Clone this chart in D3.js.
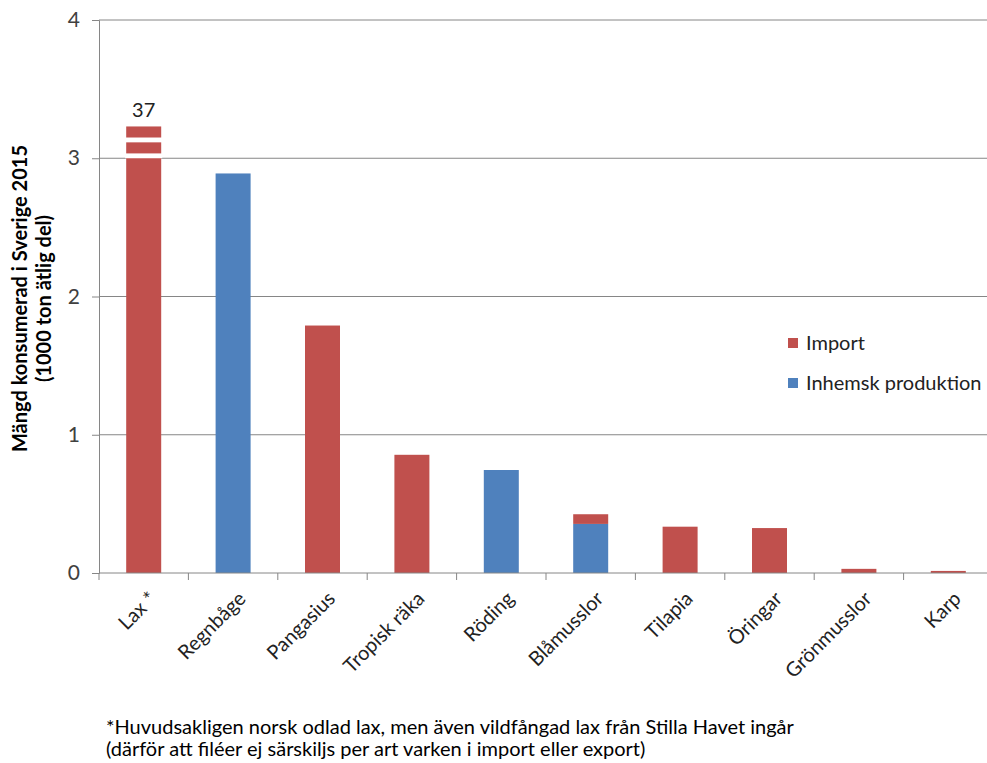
<!DOCTYPE html>
<html>
<head>
<meta charset="utf-8">
<script src="https://cdn.jsdelivr.net/npm/d3@7"></script>
<style>
  body { margin: 0; background: #fff; }
  svg { display: block; font-family: Lato, "Open Sans", sans-serif; }
</style>
</head>
<body>
<svg id="chart" width="987" height="763"></svg>
<script>
// Consumed amounts in Sweden 2015 (1000 tonnes, edible part)
const categories = ["Lax *", "Regnbåge", "Pangasius", "Tropisk räka", "Röding",
                    "Blåmusslor", "Tilapia", "Öringar", "Grönmusslor", "Karp"];
const inhemsk = [0, 2.89, 0, 0, 0.745, 0.355, 0, 0, 0, 0];
const importValues = [37, 0, 1.79, 0.855, 0, 0.07, 0.335, 0.325, 0.03, 0.015];
const seriesNames = ["Import", "Inhemsk produktion"];
const yTicks = [0, 1, 2, 3, 4];
const labelledCategory = "Lax *";
const breakCap = 3.23;          // bars taller than the axis are cut here
const breakGaps = [[3.0, 3.035], [3.115, 3.15]];
const footnote = [
  "*Huvudsakligen norsk odlad lax, men även vildfångad lax från Stilla Havet ingår",
  "(därför att filéer ej särskiljs per art varken i import eller export)"
];

const colors = { "Import": "#C0504D", "Inhemsk produktion": "#4F81BD" };

const svg = d3.select("#chart");
const plotLeft = 99, plotRight = 993, plotTop = 20, plotBottom = 573;

const x = d3.scaleBand().domain(categories).range([plotLeft, plotRight]).paddingInner(0.6).paddingOuter(0.3);
const band = d3.scaleBand().domain(categories).range([plotLeft, plotRight]);
const y = d3.scaleLinear().domain([0, 4]).range([plotBottom, plotTop]);

// gridlines
svg.append("g").selectAll("line").data(yTicks.slice(1)).join("line")
  .attr("x1", plotLeft).attr("x2", plotRight)
  .attr("y1", d => y(d)).attr("y2", d => y(d))
  .attr("stroke", "#868686").attr("stroke-width", 1);

// y axis
const yAxis = svg.append("g").attr("transform", `translate(${plotLeft},0)`)
  .call(d3.axisLeft(y).tickValues(yTicks).tickFormat(d3.format("d")).tickSize(7).tickPadding(12));
yAxis.select(".domain").attr("stroke", "#868686");
yAxis.selectAll(".tick line").attr("stroke", "#868686");
yAxis.selectAll(".tick text").attr("fill", "#404040").style("font-size", "21px")
  .style("font-family", "Lato, sans-serif");

// stacked data
const stackData = categories.map((c, i) => ({
  cat: c,
  "Inhemsk produktion": inhemsk[i],
  "Import": importValues[i]
}));
const stack = d3.stack().keys(["Inhemsk produktion", "Import"]);
const layers = stack(stackData);

const bw = 35;
layers.forEach(layer => {
  svg.append("g").selectAll("rect").data(layer).join("rect")
    .attr("x", d => x(d.data.cat) + x.bandwidth() / 2 - bw / 2)
    .attr("width", bw)
    .attr("y", d => y(Math.min(d[1], breakCap)))
    .attr("height", d => Math.max(0, y(Math.min(d[0], breakCap)) - y(Math.min(d[1], breakCap))))
    .attr("fill", colors[layer.key]);
});

// break marks on bars that exceed the axis
stackData.forEach((d, i) => {
  const total = inhemsk[i] + importValues[i];
  if (total > breakCap) {
    const cx = x(d.cat) + x.bandwidth() / 2;
    breakGaps.forEach(g => {
      svg.append("rect")
        .attr("x", cx - bw / 2 - 1).attr("width", bw + 2)
        .attr("y", y(g[1])).attr("height", y(g[0]) - y(g[1]))
        .attr("fill", "#fff");
    });
  }
});

// value label on the cut bar
const li = categories.indexOf(labelledCategory);
svg.append("text")
  .attr("x", x(labelledCategory) + x.bandwidth() / 2)
  .attr("y", y(breakCap) - 9)
  .attr("text-anchor", "middle")
  .style("font-size", "20px").attr("fill", "#222")
  .text(d3.format("d")(importValues[li] + inhemsk[li]));

// x axis
svg.append("line").attr("x1", plotLeft).attr("x2", plotRight)
  .attr("y1", plotBottom).attr("y2", plotBottom).attr("stroke", "#868686");
svg.append("g").selectAll("line").data(categories).join("line")
  .attr("x1", d => band(d)).attr("x2", d => band(d))
  .attr("y1", plotBottom).attr("y2", plotBottom + 7)
  .attr("stroke", "#868686");
svg.append("g").selectAll("text").data(categories).join("text")
  .attr("transform", d => `translate(${band(d) + band.bandwidth() / 2 + 9},${plotBottom + 22}) rotate(-45)`)
  .attr("text-anchor", "end")
  .attr("dy", "0.35em")
  .style("font-size", "20px").attr("fill", "#222")
  .text(d => d);

// y axis title
const title = svg.append("text")
  .attr("transform", `translate(27,${(plotTop + plotBottom) / 2 + 2}) rotate(-90)`)
  .attr("text-anchor", "middle")
  .style("font-size", "20px").style("font-weight", "bold").attr("fill", "#000");
title.append("tspan").attr("x", 0).attr("dy", 0).text("Mängd konsumerad i Sverige 2015");
title.append("tspan").attr("x", 0).attr("dy", 24).text("(1000 ton ätlig del)");

// legend
const legend = svg.append("g").attr("transform", "translate(788,334)");
seriesNames.forEach((s, i) => {
  const g = legend.append("g").attr("transform", `translate(0,${i * 40})`);
  g.append("rect").attr("x", 0).attr("y", 4).attr("width", 10).attr("height", 10).attr("fill", colors[s]);
  g.append("text").attr("x", 18).attr("y", 9).attr("dy", "0.35em")
    .style("font-size", "20px").attr("fill", "#222").text(s);
});

// footnote
svg.append("g").selectAll("text").data(footnote).join("text")
  .attr("x", 106).attr("y", (d, i) => 734 + i * 22)
  .style("font-size", "20px").attr("fill", "#000")
  .text(d => d);
</script>
</body>
</html>
